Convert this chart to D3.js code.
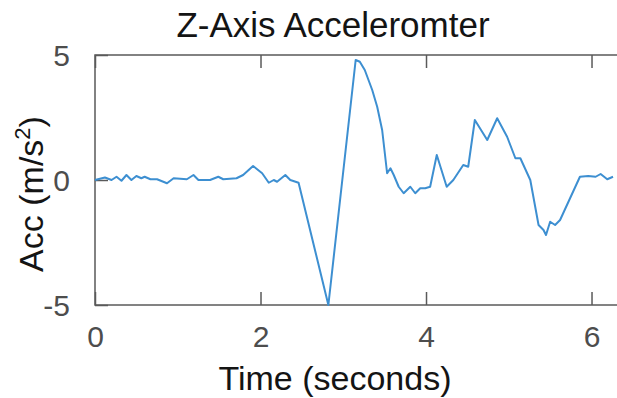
<!DOCTYPE html>
<html>
<head>
<meta charset="utf-8">
<script src="https://cdn.jsdelivr.net/npm/d3@7"></script>
<style>
  html, body { margin: 0; padding: 0; background: #fff; }
  svg { display: block; font-family: "Liberation Sans", Arial, sans-serif; }
  .tick text { fill: #4d4d4d; font-size: 30px; }
</style>
</head>
<body>
<div id="chart"></div>
<script>
// time samples (seconds) and z-axis acceleration (m/s^2)
const time = [0, 0.12, 0.20, 0.26, 0.32, 0.38, 0.44, 0.50, 0.56, 0.60, 0.67, 0.75, 0.87, 0.95,
  1.11, 1.19, 1.25, 1.39, 1.49, 1.55, 1.71, 1.79, 1.91, 2.02, 2.10, 2.16, 2.20, 2.30, 2.36, 2.46,
  2.82, 3.15, 3.20, 3.26, 3.35, 3.41, 3.47, 3.53, 3.57, 3.61, 3.67, 3.73, 3.81, 3.87, 3.93, 3.99,
  4.05, 4.13, 4.25, 4.33, 4.45, 4.51, 4.59, 4.74, 4.86, 4.98, 5.08, 5.14, 5.26, 5.36, 5.42, 5.45,
  5.50, 5.56, 5.62, 5.86, 5.96, 6.05, 6.11, 6.19, 6.26];
const acc = [0, 0.1, 0, 0.13, -0.03, 0.2, 0, 0.16, 0.07, 0.13, 0.03, 0.03, -0.13, 0.07,
  0.03, 0.2, 0, 0, 0.13, 0.03, 0.07, 0.2, 0.56, 0.27, -0.11, 0, -0.07, 0.2, 0, -0.11,
  -5.0, 4.8, 4.73, 4.4, 3.6, 2.93, 2.0, 0.27, 0.47, 0.2, -0.27, -0.53, -0.27, -0.53, -0.33, -0.33,
  -0.27, 1.0, -0.27, 0, 0.6, 0.53, 2.4, 1.6, 2.47, 1.73, 0.87, 0.87, 0, -1.8, -2.0, -2.2,
  -1.67, -1.8, -1.6, 0.13, 0.16, 0.13, 0.24, 0.03, 0.13];
const xTicks = [0, 2, 4, 6];
const yTicks = [-5, 0, 5];

const width = 617, height = 398;
const margin = { top: 55, right: -1, bottom: 93, left: 95 };

const svg = d3.select("#chart").append("svg")
  .attr("width", width).attr("height", height);

const x = d3.scaleLinear().domain([0, 6.32]).range([margin.left, width - margin.right]);
const y = d3.scaleLinear().domain([-5, 5]).range([height - margin.bottom, margin.top]);

const axisColor = "#5a5a5a";
const tickLen = 13;
const fmt = d => String(d); // plain hyphen minus, as in the original

// box
svg.append("rect")
  .attr("x", x(0)).attr("y", y(5))
  .attr("width", x(6.32) - x(0)).attr("height", y(-5) - y(5))
  .attr("fill", "none").attr("stroke", axisColor).attr("stroke-width", 1.5);

// bottom axis
const xAxis = svg.append("g")
  .attr("transform", `translate(0,${y(-5)})`)
  .call(d3.axisBottom(x).tickValues(xTicks).tickSize(-tickLen).tickPadding(tickLen + 8).tickFormat(fmt));
xAxis.select(".domain").remove();
xAxis.selectAll("line").attr("stroke", axisColor).attr("stroke-width", 1.5);

// top ticks
const xTop = svg.append("g")
  .attr("transform", `translate(0,${y(5)})`)
  .call(d3.axisTop(x).tickValues(xTicks).tickSize(-tickLen).tickFormat(""));
xTop.select(".domain").remove();
xTop.selectAll("line").attr("stroke", axisColor).attr("stroke-width", 1.5);

// left axis
const yAxis = svg.append("g")
  .attr("transform", `translate(${x(0)},0)`)
  .call(d3.axisLeft(y).tickValues(yTicks).tickSize(-tickLen).tickPadding(tickLen + 12).tickFormat(fmt));
yAxis.select(".domain").remove();
yAxis.selectAll("line").attr("stroke", axisColor).attr("stroke-width", 1.5);
yAxis.selectAll("text").attr("dy", "0.36em");

// signal
const line = d3.line().x((d, i) => x(time[i])).y(d => y(d));
svg.append("path")
  .datum(acc)
  .attr("d", line)
  .attr("fill", "none")
  .attr("stroke", "#3d8fd1")
  .attr("stroke-width", 2)
  .attr("stroke-linejoin", "round");

// labels
svg.append("text")
  .attr("x", 333).attr("y", 37)
  .attr("text-anchor", "middle")
  .attr("font-size", 35).attr("fill", "#141414")
  .text("Z-Axis Acceleromter");

svg.append("text")
  .attr("x", 335).attr("y", 390)
  .attr("text-anchor", "middle")
  .attr("font-size", 34).attr("fill", "#141414")
  .text("Time (seconds)");

const yl = svg.append("text")
  .attr("transform", "translate(43,194) rotate(-90)")
  .attr("text-anchor", "middle")
  .attr("font-size", 34).attr("fill", "#141414");
yl.append("tspan").text("Acc (m/s");
yl.append("tspan").attr("font-size", 22).attr("dy", -13).text("2");
yl.append("tspan").attr("dy", 13).text(")");
</script>
</body>
</html>
